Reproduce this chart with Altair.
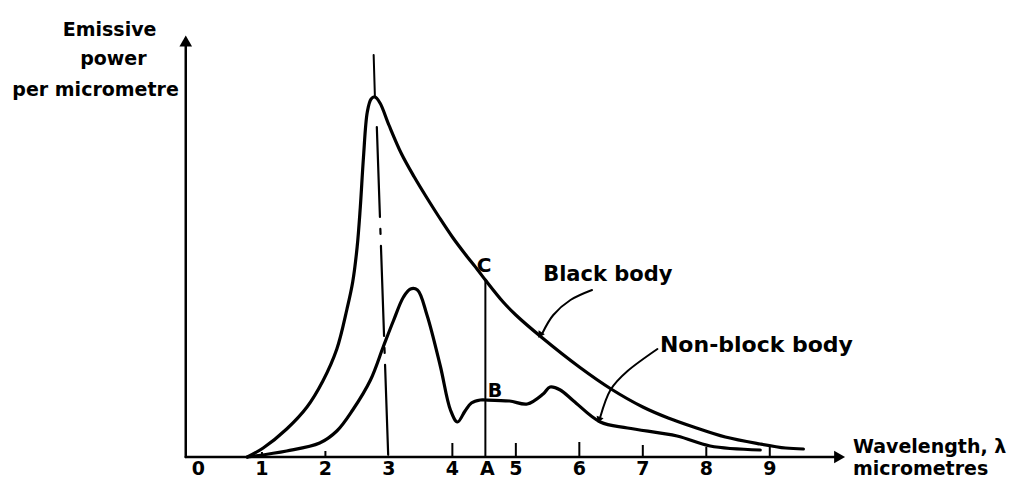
import altair as alt
import pandas as pd

# ---- data (x: wavelength in micrometres, y: emissive power, arbitrary units) ----
black_x = [0.77, 1.02, 1.39, 1.71, 1.96, 2.18, 2.34, 2.43, 2.50, 2.55, 2.60, 2.66, 2.72, 2.78, 2.86,
           3.0, 3.2, 3.4, 3.6, 3.8, 4.0, 4.2, 4.4, 4.52, 4.8, 5.0, 5.4, 6.0, 6.5, 7.0, 7.4, 7.8, 8.3, 8.85, 9.25, 9.53]
black_y = [0, 9, 28, 50, 76, 108, 148, 175, 210, 250, 300, 345, 358, 360, 354,
           332, 303, 280, 259, 239, 220, 203, 187, 177, 155, 142, 120, 90, 68, 50, 39, 30, 20, 13, 9, 8]

nonblack_x = [0.77, 1.39, 1.91, 2.18, 2.43, 2.71, 2.91, 3.07, 3.23, 3.34, 3.45, 3.60, 3.81, 3.97, 4.08,
              4.20, 4.30, 4.44, 4.52, 4.90, 5.18, 5.43, 5.54, 5.70, 5.91, 6.33, 6.76, 7.54, 8.06, 8.85]
nonblack_y = [0, 6, 14, 26, 47, 77, 110, 136, 160, 168, 167, 142, 91, 47, 35,
              46, 54, 57, 57, 56, 53, 63, 70, 67, 56, 35, 29, 21, 11, 7]

tick_values = [1, 2, 4, 5, 6, 7, 8, 9]
tick_lengths = [5, 6, 14, 14, 15, 12, 10, 10]
tick_labels = ["0", "1", "2", "3", "4", "5", "6", "7", "8", "9"]
tick_label_pos = [0, 1, 2, 3, 4, 5, 6, 7, 8, 9]

point_A_x = 4.52
point_C_y = 177

peak_line_x = [2.76, 2.78]
peak_line_y = [402, 360]
peak_dash_x = [2.81, 2.99]
peak_dash_y = [330, 0]

bb_leader_x = [6.20, 5.86, 5.59, 5.42]
bb_leader_y = [167, 157, 142, 124]
nb_leader_x = [7.23, 6.76, 6.49, 6.33]
nb_leader_y = [108, 86, 67, 40]

FONT = "DejaVu Sans"
X_DOM = [-3, 12.8]
Y_DOM = [-23, 449]


def X(field="x"):
    return alt.X(field, type="quantitative", scale=alt.Scale(domain=X_DOM, nice=False, zero=False), axis=None)


def Y(field="y"):
    return alt.Y(field, type="quantitative", scale=alt.Scale(domain=Y_DOM, nice=False, zero=False), axis=None)


def line(xs, ys, width=3.0, dash=None, interp="linear"):
    df = pd.DataFrame({"x": xs, "y": ys, "i": list(range(len(xs)))})
    kw = dict(color="black", strokeWidth=width, interpolate=interp, strokeCap="round", strokeJoin="round")
    if dash:
        kw["strokeDash"] = dash
    return alt.Chart(df).mark_line(**kw).encode(x=X(), y=Y(), order="i:Q")


def text(xs, ys, labels, size, align="center"):
    df = pd.DataFrame({"x": xs, "y": ys, "t": labels})
    return alt.Chart(df).mark_text(
        font=FONT, fontSize=size, fontWeight="bold", align=align, baseline="middle", color="black"
    ).encode(x=X(), y=Y(), text="t:N")


def arrowhead(x, y, angle, size):
    df = pd.DataFrame({"x": [x], "y": [y]})
    return alt.Chart(df).mark_point(
        shape="triangle-up", filled=True, color="black", size=size, angle=angle, opacity=1
    ).encode(x=X(), y=Y())


layers = []
# axes
layers.append(line([-0.2, -0.2], [0, 418], width=2.5))
layers.append(arrowhead(-0.2, 416, 0, 160))
layers.append(line([-0.2, 10.05], [0, 0], width=2.5))
layers.append(arrowhead(10.1, 0, 90, 160))

# ticks
tick_df = pd.DataFrame({"x": tick_values, "y": [0] * len(tick_values), "y2": tick_lengths})
layers.append(
    alt.Chart(tick_df).mark_rule(color="black", strokeWidth=2).encode(x=X(), y=Y(), y2="y2:Q")
)
layers.append(text(tick_label_pos, [-12] * len(tick_label_pos), tick_labels, 19))

# curves
layers.append(line(black_x, black_y, width=3.2, interp="catmull-rom"))
layers.append(line(nonblack_x, nonblack_y, width=3.2, interp="catmull-rom"))

# peak marker line
layers.append(line(peak_line_x, peak_line_y, width=2))
layers.append(line(peak_dash_x, peak_dash_y, width=2.2, dash=[90, 12, 5, 12]))

# A-C line
layers.append(line([point_A_x, point_A_x], [0, point_C_y], width=2))
layers.append(text([4.50], [191], ["C"], 20))
layers.append(text([4.67], [66], ["B"], 19))
layers.append(text([4.55], [-12], ["A"], 19))

# leaders
layers.append(line(bb_leader_x, bb_leader_y, width=2, interp="cardinal"))
layers.append(arrowhead(5.38, 122, 213, 55))
layers.append(line(nb_leader_x, nb_leader_y, width=2, interp="cardinal"))
layers.append(arrowhead(6.31, 37, 200, 55))

# labels
layers.append(text([5.43], [182], ["Black body"], 21, align="left"))
layers.append(text([7.27], [112], ["Non-block body"], 22, align="left"))
layers.append(text([10.31, 10.31], [10, -12], ["Wavelength, λ", "micrometres"], 19, align="left"))
layers.append(text([-1.40, -1.34, -1.62], [427, 398, 367], ["Emissive", "power", "per micrometre"], 19))

chart = alt.layer(*layers).properties(
    width=1003,
    height=472,
    autosize=alt.AutoSizeParams(type="none"),
    padding=0,
    background="white",
).configure_view(stroke=None)

chart.save("out.html", embed_options={"renderer": "svg", "actions": False})
